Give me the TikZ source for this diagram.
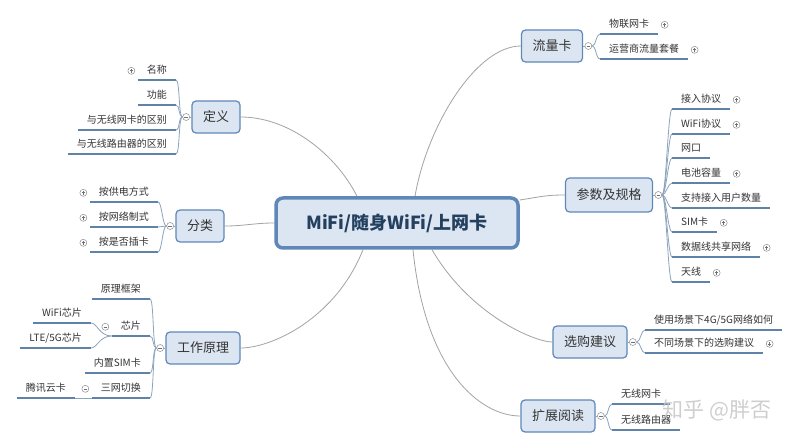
\documentclass[tikz,border=0pt]{standalone}
\usepackage{fontspec}
\setmainfont{Noto Sans CJK SC}
\usetikzlibrary{positioning,backgrounds}
\definecolor{Ink}{HTML}{333333}
\definecolor{Navy}{HTML}{23405F}
\definecolor{Pale}{HTML}{DCE6F2}
\definecolor{Frame}{HTML}{5F87B8}
\definecolor{Rule}{HTML}{5E82A8}
\definecolor{Brace}{HTML}{8CA3BE}
\definecolor{Link}{HTML}{A3A3A3}
\definecolor{Mark}{HTML}{8C8C8C}
\tikzset{
 hub/.style={draw=Frame,line width=3.5pt,fill=Pale,rounded corners=7pt,minimum width=242pt,
   minimum height=50pt,font=\fontsize{18}{20}\selectfont\bfseries,text=Navy},
 topic/.style={draw=Frame,line width=1.2pt,fill=Pale,rounded corners=4pt,minimum height=32pt,
   inner xsep=11pt,font=\fontsize{13}{15}\selectfont,text=Ink},
 leaf/.style={font=\fontsize{10}{12}\selectfont,text=Ink,inner xsep=9pt,inner ysep=4pt,
   text height=8pt,text depth=2pt,
   append after command={(\tikzlastnode.south west) edge[uline] (\tikzlastnode.south east)}},
 uline/.style={draw=Rule,line width=2.4pt},
 brace/.style={draw=Brace,line width=0.8pt},
 link/.style={draw=Link,line width=0.8pt},
 plusmark/.style={circle,draw=Mark,fill=white,line width=0.5pt,inner sep=0pt,minimum size=7pt,
   path picture={\draw[Mark!80!black,line width=0.6pt]
     ([xshift=1.7pt]path picture bounding box.west) -- ([xshift=-1.7pt]path picture bounding box.east)
     ([yshift=1.7pt]path picture bounding box.south) -- ([yshift=-1.7pt]path picture bounding box.north);}},
 minusmark/.style={circle,draw=Mark,fill=white,line width=0.5pt,inner sep=0pt,minimum size=7pt,
   path picture={\draw[Mark!80!black,line width=0.6pt]
     ([xshift=1.7pt]path picture bounding box.west) -- ([xshift=-1.7pt]path picture bounding box.east);}},
 plusL/.style={label={[plusmark,label distance=2.5pt]west:{}}},
 plusR/.style={label={[plusmark,label distance=2.5pt]east:{}}},
 minusL/.style={label={[minusmark,label distance=2.5pt]west:{}}}
}
\begin{document}
\begin{tikzpicture}[x=1pt,y=-1pt]
\useasboundingbox (0,0) rectangle (800,446);
% centre and main topics
\node[hub] (hub) at (397,223) {MiFi/随身WiFi/上网卡};
\node[topic] (dy) at (216,117) {定义};
\node[topic] (fl) at (200,226) {分类};
\node[topic] (gz) at (203,348) {工作原理};
\node[topic] (llk) at (552,46) {流量卡};
\node[topic,minimum height=34pt] (cs) at (609,195) {参数及规格};
\node[topic] (xg) at (590,342) {选购建议};
\node[topic] (kz) at (558,416) {扩展阅读};
\node[minusmark,left=1.5pt of dy] (dym) {};
\node[minusmark,left=1.5pt of fl] (flm) {};
\node[minusmark,left=1.5pt of gz] (gzm) {};
\node[minusmark,right=1.5pt of llk] (llkm) {};
\node[minusmark,right=1.5pt of cs] (csm) {};
\node[minusmark,right=1.5pt of xg] (xgm) {};
\node[minusmark,right=1.5pt of kz] (kzm) {};
% left leaves
\node[leaf,plusL,anchor=south east] (d1) at (176,80) {名称};
\node[leaf,anchor=south east] (d2) at (176,105) {功能};
\node[leaf,anchor=south east] (d3) at (176,130) {与无线网卡的区别};
\node[leaf,anchor=south east] (d4) at (176,154) {与无线路由器的区别};
\node[leaf,plusL,anchor=south east] (f1) at (158,202) {按供电方式};
\node[leaf,plusL,anchor=south east] (f2) at (158,227) {按网络制式};
\node[leaf,plusL,anchor=south east] (f3) at (158,252) {按是否插卡};
\node[leaf,anchor=south east] (g1) at (150,299) {原理框架};
\node[leaf,minusL,anchor=south east] (g2) at (150,336) {芯片};
\node[leaf,anchor=south east] (g3) at (150,373) {内置SIM卡};
\node[leaf,minusL,anchor=south east] (g4) at (150,398) {三网切换};
\node[leaf,anchor=south east] (g21) at (91,323) {WiFi芯片};
\node[leaf,anchor=south east] (g22) at (91,348) {LTE/5G芯片};
\node[leaf,anchor=south east] (g41) at (75,398) {腾讯云卡};
% right leaves
\node[leaf,plusR,anchor=south west] (r1) at (600,34) {物联网卡};
\node[leaf,plusR,anchor=south west] (r2) at (600,59) {运营商流量套餐};
\node[leaf,plusR,anchor=south west] (c1) at (672,109) {接入协议};
\node[leaf,plusR,anchor=south west] (c2) at (672,134) {WiFi协议};
\node[leaf,anchor=south west] (c3) at (672,158) {网口};
\node[leaf,plusR,anchor=south west] (c4) at (672,183) {电池容量};
\node[leaf,anchor=south west] (c5) at (672,208) {支持接入用户数量};
\node[leaf,plusR,anchor=south west] (c6) at (672,232) {SIM卡};
\node[leaf,plusR,anchor=south west] (c7) at (672,257) {数据线共享网络};
\node[leaf,plusR,anchor=south west] (c8) at (672,282) {天线};
\node[leaf,anchor=south west] (x1) at (645,330) {使用场景下4G/5G网络如何};
\node[leaf,plusR,anchor=south west] (x2) at (645,353) {不同场景下的选购建议};
\node[leaf,anchor=south west] (k1) at (612,404) {无线网卡};
\node[leaf,anchor=south west] (k2) at (612,430) {无线路由器};
% brackets
\foreach \m/\t in {dy/dym,fl/flm,gz/gzm} \draw[brace] (\m.west) -- (\t.east);
\foreach \m/\t in {llk/llkm,cs/csm,xg/xgm,kz/kzm} \draw[brace] (\m.east) -- (\t.west);
\foreach \n in {d1,d2,d3,d4} \draw[brace] (dym.west) .. controls +(-4,0) and +(4,0) .. (\n.south east);
\foreach \n in {f1,f2,f3} \draw[brace] (flm.west) .. controls +(-4,0) and +(4,0) .. (\n.south east);
\foreach \n in {g1,g2,g3,g4} \draw[brace] (gzm.west) .. controls +(-4,0) and +(4,0) .. (\n.south east);
\foreach \n in {g21,g22} \draw[brace] (g2.south west) .. controls +(-12,0) and +(6,0) .. (\n.south east);
\draw[brace] (g4.south west) -- (g41.south east);
\foreach \n in {r1,r2} \draw[brace] (llkm.east) .. controls +(4,0) and +(-4,0) .. (\n.south west);
\foreach \n in {c1,c2,c3,c4,c5,c6,c7,c8} \draw[brace] (csm.east) .. controls +(4,0) and +(-4,0) .. (\n.south west);
\foreach \n in {x1,x2} \draw[brace] (xgm.east) .. controls +(4,0) and +(-4,0) .. (\n.south west);
\foreach \n in {k1,k2} \draw[brace] (kzm.east) .. controls +(4,0) and +(-4,0) .. (\n.south west);
% watermark
\node[font=\fontsize{21}{24}\selectfont,text=gray!45,opacity=0.85] (wm) at (717,410) {知乎 @胖否};
% links from the centre
\begin{scope}[on background layer]
\fill[white] (0,0) rectangle (800,446);
\draw[link] (dy.east) .. controls +(50,0) and +(-20,-40) .. ([xshift=-40pt]hub.north);
\draw[link] (llk.west) .. controls +(-45,0) and +(12,-70) .. ([xshift=18pt]hub.north);
\draw[link] ([yshift=23pt]hub.east) .. controls +(20,-3) and +(-20,0) .. (cs.west);
\draw[link] (hub.west) .. controls +(-20,0) and +(20,0) .. (fl.east);
\draw[link] ([xshift=-34pt]hub.south) .. controls +(-28,70) and +(30,0) .. (gz.east);
\draw[link] ([xshift=35pt]hub.south) .. controls +(38,65) and +(-18,0) .. (xg.west);
\draw[link] ([xshift=16pt]hub.south) .. controls +(12,120) and +(-41,0) .. (kz.west);
\end{scope}
\end{tikzpicture}
\end{document}
